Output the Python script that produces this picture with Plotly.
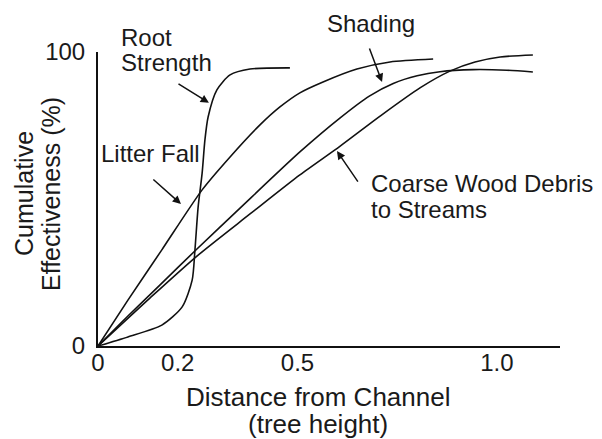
import plotly.graph_objects as go

# Distance from channel (tree heights) and cumulative effectiveness (%)
root_x = [0, 0.075, 0.160, 0.211, 0.236, 0.243, 0.251, 0.261, 0.268, 0.276, 0.298, 0.331, 0.381, 0.481]
root_y = [0, 3.1, 7.1, 13.3, 22.4, 32.7, 47.3, 58.8, 70.1, 77.9, 87.1, 92.2, 94.2, 94.6]

litter_x = [0, 0.075, 0.160, 0.261, 0.331, 0.406, 0.456, 0.506, 0.564, 0.649, 0.732, 0.840]
litter_y = [0, 15.6, 32.7, 53.1, 64.3, 75.2, 81.3, 86.1, 89.8, 94.2, 96.6, 97.6]

shading_x = [0, 0.075, 0.155, 0.248, 0.356, 0.506, 0.607, 0.680, 0.740, 0.800, 0.857, 0.940, 1.025, 1.090]
shading_y = [0, 10.2, 20.7, 33.0, 46.9, 66.0, 77.6, 85.0, 89.3, 91.9, 93.3, 94.0, 93.8, 93.2]

wood_x = [0, 0.130, 0.248, 0.381, 0.506, 0.607, 0.707, 0.807, 0.882, 0.945, 1.008, 1.090]
wood_y = [0, 16.3, 30.6, 44.9, 58.2, 68.0, 78.2, 87.8, 93.5, 96.6, 98.3, 99.0]

x_tick_vals = [0, 0.2, 0.5, 1.0]
x_tick_text = ["0", "0.2", "0.5", "1.0"]
y_tick_vals = [0, 100]
y_tick_text = ["0", "100"]

FONT = "Liberation Sans, Arial, Helvetica, sans-serif"
TXT = "#1a1a1a"

# page body has an 8px margin: the figure is offset so that the plot
# area lands at x 98..560, y 52..346 in the window
OFF = 8
W, H = 602 - OFF, 439 - OFF
PL, PR, PT, PB = 98, 560, 52, 346


def px(xw):
    return (xw - PL) / (PR - PL)


def py(yw):
    return (PB - yw) / (PB - PT)


fig = go.Figure()
for xs, ys, name in [(root_x, root_y, "Root Strength"), (litter_x, litter_y, "Litter Fall"),
                     (shading_x, shading_y, "Shading"), (wood_x, wood_y, "Coarse Wood Debris")]:
    fig.add_trace(go.Scatter(x=xs, y=ys, mode="lines", name=name,
                             line=dict(color="#111111", width=1.6, shape="spline", smoothing=0.7),
                             hoverinfo="skip", cliponaxis=False))


def label(text, xw, yw, xanchor="left", size=24, angle=0):
    fig.add_annotation(text=text, x=px(xw), y=py(yw), xref="paper", yref="paper",
                       showarrow=False, xanchor=xanchor, yanchor="middle", textangle=angle,
                       borderpad=0, font=dict(family=FONT, size=size, color=TXT))


def arrow(x, y, ax, ay):
    fig.add_annotation(text="", x=x, y=y, ax=ax, ay=ay, xref="x", yref="y",
                       axref="x", ayref="y", showarrow=True, arrowhead=2,
                       arrowsize=1.1, arrowwidth=1.5, arrowcolor="#111111")


label("Root", 120, 38)
label("Strength", 120, 62)
label("Litter Fall", 100, 153)
label("Shading", 371, 23, xanchor="center")
label("Coarse Wood Debris", 370, 183)
label("to Streams", 370, 209)

arrow(0.278, 82.7, 0.198, 89.5)
arrow(0.208, 48.3, 0.135, 57.1)
arrow(0.712, 89.8, 0.679, 101.7)
arrow(0.599, 66.3, 0.654, 55.4)

# axis titles
label("Cumulative", 24, 194, xanchor="center", size=25, angle=-90)
label("Effectiveness (%)", 51, 194, xanchor="center", size=25, angle=-90)
label("Distance from Channel", 318, 397, xanchor="center", size=26)
label("(tree height)", 318, 424, xanchor="center", size=26)

fig.update_layout(
    width=W, height=H,
    margin=dict(l=PL - OFF, r=W + OFF - PR, t=PT - OFF, b=H + OFF - PB, autoexpand=False),
    paper_bgcolor="white", plot_bgcolor="white",
    showlegend=False,
    font=dict(family=FONT, size=24, color=TXT),
    xaxis=dict(range=[0, 1.158], tickvals=x_tick_vals, ticktext=x_tick_text,
               showgrid=False, zeroline=False, showline=True, linecolor="#111111",
               linewidth=2, ticks="", ticklabelstandoff=-6, automargin=False),
    yaxis=dict(range=[0, 100], tickvals=y_tick_vals, ticktext=y_tick_text,
               showgrid=False, zeroline=False, showline=True, linecolor="#111111",
               linewidth=2, ticks="", ticklabelstandoff=6, automargin=False),
)

fig.write_html("out.html")
